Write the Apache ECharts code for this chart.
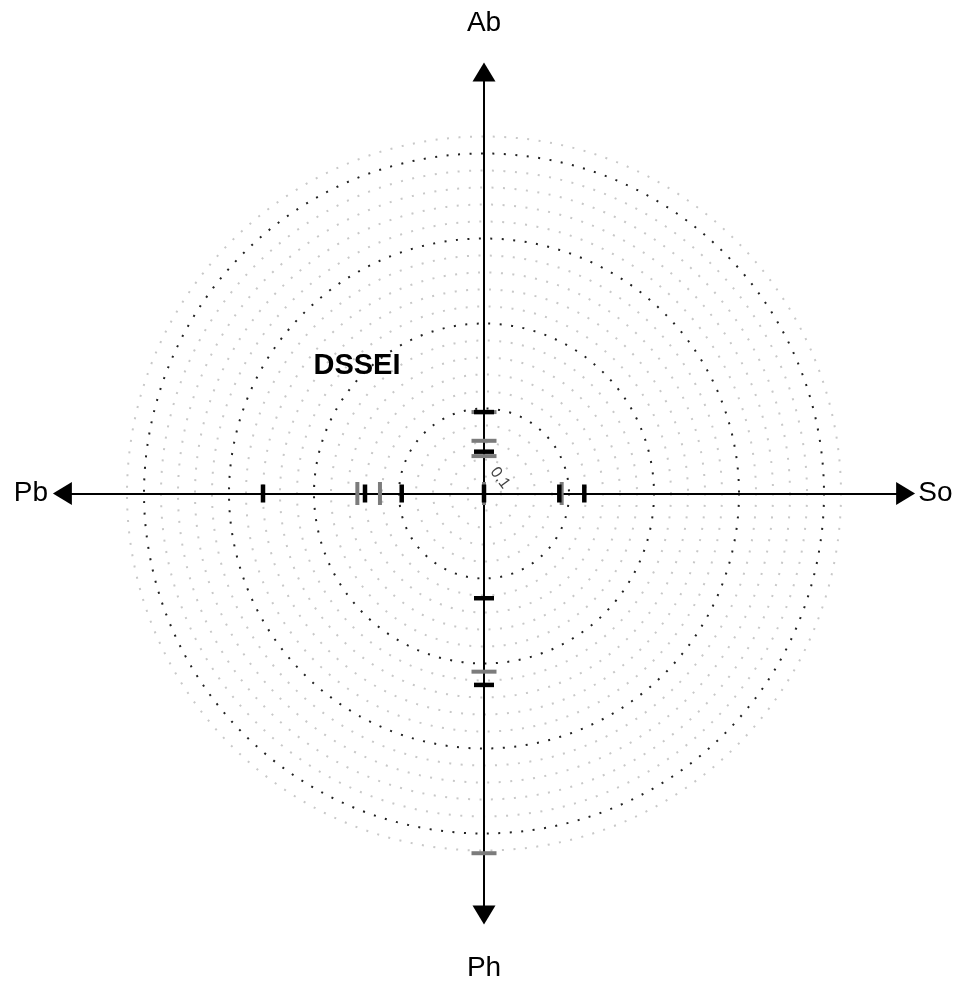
<!DOCTYPE html>
<html>
<head>
<meta charset="utf-8">
<script src="https://cdn.jsdelivr.net/npm/echarts@6/dist/echarts.min.js"></script>
<style>
  html, body { margin: 0; padding: 0; background: #fff; }
  #chart { width: 959px; height: 981px; }
</style>
</head>
<body>
<div id="chart"></div>
<script>
/* 四向轴名:右、上、左、下 */
const AXIS_NAMES = ['So', 'Ab', 'Pb', 'Ph']

/* 水平轴(So 正 / Pb 负)上的刻度标记 */
const H_BLACK = [-1.30, -0.70, -0.484, 0, 0.443, 0.59]
const H_GREY = [-0.745, -0.612, 0, 0.457]

/* 垂直轴(Ab 正 / Ph 负)上的刻度标记 */
const V_BLACK = [0.479, 0.246, -0.616, -1.126]
const V_GREY = [0.479, 0.31, 0.22, -1.048, -2.116]

/* 同心圆:0.1 一圈,0.5 整倍为深色 */
const RING_MAX = 2.1
const RING_STEP = 0.1
const RING_LABEL = '0.1'
const TITLE = 'DSSEI'

const CX = 484, CY = 493.5, PX = 170, LIM = 2.48
const INK = '#000', GREY = '#7c7c7c'
const FONT = "'Liberation Sans', Arial, sans-serif"

const chart = echarts.init(document.getElementById('chart'))

/* scatter 默认 opacity 0.8,这里统一拉满 */
const tickSeries = (vals, horiz, color, size, z) => ({
  type: 'scatter', z, clip: false, silent: true,
  symbol: 'rect', symbolSize: size,
  itemStyle: { color, opacity: 1 },
  data: vals.map(v => (horiz ? [v, 0] : [0, v])),
})

const axisCommon = {
  type: 'value', min: -LIM, max: LIM, z: 3,
  axisLine: { onZero: true, symbol: ['triangle', 'triangle'], symbolSize: [23, 19],
    lineStyle: { color: INK, width: 2 } },
  axisTick: { show: false }, axisLabel: { show: false }, splitLine: { show: false },
}

const nameR = [2.655, 2.768, 2.665, 2.79]
const namePts = AXIS_NAMES.map((n, i) => {
  const r = nameR[i]
  const pos = [[r, 0], [0, r], [-r, 0], [0, -r]][i]
  return { value: pos, name: n }
})

chart.setOption({
  animation: false,
  grid: { left: CX - LIM * PX, top: CY - LIM * PX, width: 2 * LIM * PX, height: 2 * LIM * PX },
  xAxis: axisCommon,
  yAxis: axisCommon,
  polar: { center: [CX, CY], radius: RING_MAX * PX },
  angleAxis: { show: false, min: 0, max: 360 },
  radiusAxis: {
    min: 0, max: RING_MAX, interval: RING_STEP, z: 0,
    axisLine: { show: false }, axisTick: { show: false }, axisLabel: { show: false },
    splitLine: { show: true, lineStyle: {
      color: ['#222', '#c8c8c8', '#c8c8c8', '#c8c8c8', '#c8c8c8'],
      width: 2, type: [2, 9.5] } },
  },
  graphic: [{
    type: 'text', x: 357, y: 366, z: 10,
    style: { text: TITLE, font: `bold 29px ${FONT}`, fill: INK,
      textAlign: 'center', textVerticalAlign: 'middle' },
  }],
  series: [
    tickSeries(H_GREY, true, GREY, [4, 23], 4),
    tickSeries(V_GREY, false, GREY, [25, 4], 4),
    tickSeries(H_BLACK, true, INK, [4.5, 18], 5),
    tickSeries(V_BLACK, false, INK, [20, 4.5], 5),
    {
      type: 'scatter', z: 6, clip: false, silent: true, symbolSize: 0,
      itemStyle: { opacity: 1 },
      data: [{ value: [0.094, 0.091], name: RING_LABEL }],
      label: { show: true, position: 'inside', formatter: '{b}', rotate: -53,
        color: '#444', fontSize: 16, fontFamily: FONT },
    },
    {
      type: 'scatter', z: 6, clip: false, silent: true, symbolSize: 0,
      itemStyle: { opacity: 1 },
      data: namePts,
      label: { show: true, position: 'inside', formatter: '{b}',
        color: INK, fontSize: 28, fontFamily: FONT },
    },
  ],
})
</script>
</body>
</html>
